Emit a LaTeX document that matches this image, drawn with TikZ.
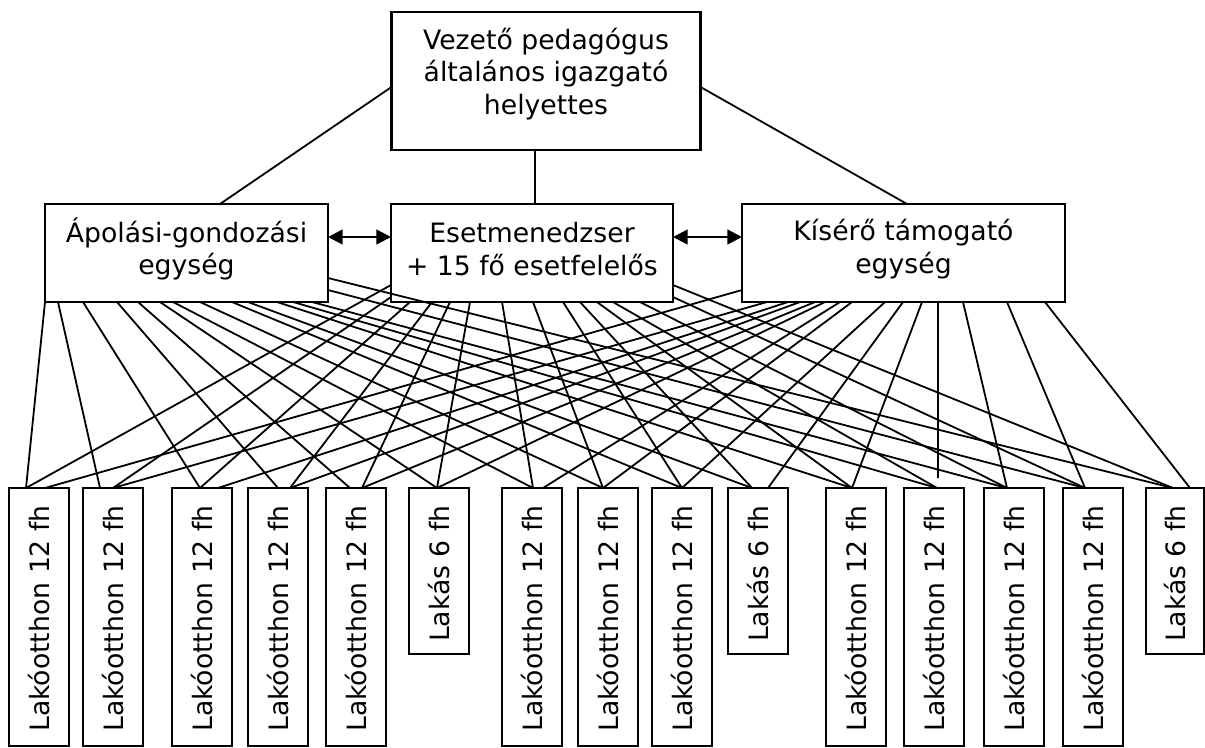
\documentclass[tikz,border=0pt]{standalone}
\usepackage{fontspec}
\setmainfont{DejaVu Sans}
\usetikzlibrary{calc,arrows.meta}
\begin{document}
\begin{tikzpicture}[x=0.75pt,y=-0.75pt,
  box/.style={draw,line width=1.6pt,fill=white,inner sep=0pt,outer sep=0pt},
  txt/.style={font=\fontsize{20}{24.25}\selectfont,align=center,inner sep=0pt},
  lak/.style={box,minimum width=45pt,minimum height=193.5pt},
  lakas/.style={box,minimum width=45pt,minimum height=124.5pt},
  conn/.style={line width=1.35pt},
  vlbl/.style={font=\fontsize{20}{24.25}\selectfont,rotate=90,anchor=east,inner sep=0pt},
  dbl/.style={{Triangle[length=11pt,width=11pt]}-{Triangle[length=11pt,width=11pt]},line width=1.8pt}]
\useasboundingbox (0,0) rectangle (1205,747);
% upper boxes
\node[box,minimum width=231.75pt,minimum height=103.5pt] (top) at (546,81) {};
\node[txt] (toptxt) at ($(top.center)+(0,-7)$) {Vezető pedagógus\\általános igazgató\\helyettes};
\node[box,minimum width=212.25pt,minimum height=73.5pt] (ap) at (186.5,253) {};
\node[txt] (aptxt) at ($(ap.center)+(0,-4)$) {Ápolási-gondozási\\egység};
\node[box,minimum width=211.5pt,minimum height=73.5pt] (em) at (532,253) {};
\node[txt] (emtxt) at ($(em.center)+(0,-4)$) {Esetmenedzser\\+ 15 fő esetfelelős};
\node[box,minimum width=242.25pt,minimum height=73.5pt] (ks) at (903.5,253) {};
\node[txt] (kstxt) at ($(ks.center)+(0,-4)$) {Kísérő támogató\\egység};
% bottom boxes
\foreach \i/\cx in {1/39,2/113,3/202,4/278,5/356,7/532,8/608,9/682,11/856,12/934,13/1014,14/1093}{
  \node[lak] (b\i) at (\cx,617) {};
  \node[vlbl] (t\i) at (\cx,505) {Lakóotthon 12 fh};
}
\foreach \i/\cx in {6/439,10/758}{
  \node[lakas] (b\i) at (\cx,571) {};
  \node[vlbl] (t\i) at (\cx,505) {Lakás 6 fh};
}
\node[box,minimum width=43.5pt,minimum height=124.5pt] (b15) at (1175,571) {};
\node[vlbl] (t15) at (1175,505) {Lakás 6 fh};
% top connectors
\draw[conn] (top.west |- 0,87) -- (ap.north -| 220,0);
\draw[conn] (top.south -| 535,0) -- (em.north -| 535,0);
\draw[conn] (top.east |- 0,87) -- (ks.north -| 907,0);
% arrows
\draw[dbl] (ap.east |- 0,237) -- (em.west |- 0,237);
\draw[dbl] (em.east |- 0,237) -- (ks.west |- 0,237);
% left unit connectors
\foreach \s/\b/\e in {45/1/26,58/2/100,83/3/200,117/4/278,138/5/350,160/6/437,173/7/533,
  200/8/603,232/9/682,248/10/752,277/11/852,293/12/937,312/13/1007}
  \draw[conn] (ap.south -| \s,0) -- (b\b.north -| \e,0);
\draw[conn] (ap.east |- 0,290) -- (b14.north -| 1085,0);
\draw[conn] (ap.east |- 0,278) -- (b15.north -| 1173,0);
% middle unit connectors
\draw[conn] (em.west |- 0,285) -- (b1.north -| 26,0);
\draw[conn] (em.west |- 0,297) -- (b2.north -| 113,0);
\foreach \s/\b/\e in {410/3/200,432/4/290,450/5/362,470/6/437,502/7/533,533/8/603,
  563/9/682,580/10/752,597/11/852,613/12/937,640/13/1007}
  \draw[conn] (em.south -| \s,0) -- (b\b.north -| \e,0);
\draw[conn] (em.east |- 0,297) -- (b14.north -| 1085,0);
\draw[conn] (em.east |- 0,285) -- (b15.north -| 1173,0);
% right unit connectors
\draw[conn] (ks.west |- 0,290) -- (b1.north -| 45,0);
\foreach \s/\b/\e in {767/2/113,788/3/218,800/4/290,815/5/362,825/6/437,840/7/543,
  852/8/603,885/9/682,903/10/768,922/11/852,963/13/1007,1007/14/1085,1045/15/1190}
  \draw[conn] (ks.south -| \s,0) -- (b\b.north -| \e,0);
\coordinate (v12) at (938,478);
\draw[conn] (ks.south -| v12) -- (v12);
\end{tikzpicture}
\end{document}
